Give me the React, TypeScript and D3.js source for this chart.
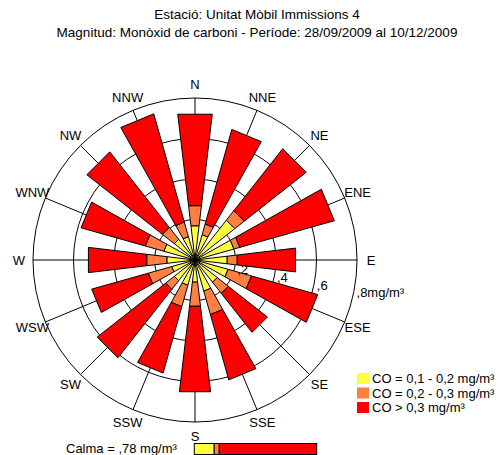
import React from "react";
import * as d3 from "d3";

const directions = ["N", "NNE", "NE", "ENE", "E", "ESE", "SE", "SSE", "S", "SSW", "SW", "WSW", "W", "WNW", "NW", "NNW"];
// concentration class contributions (mg/m³) per direction
const lowValues = [0.17, 0.13, 0.25, 0.20, 0.16, 0.17, 0.14, 0.16, 0.11, 0.13, 0.13, 0.12, 0.14, 0.16, 0.13, 0.12];
const midValues = [0.10, 0.055, 0.06, 0.03, 0.05, 0.12, 0.07, 0.12, 0.12, 0.11, 0.055, 0.12, 0.10, 0.095, 0.075, 0.075];
const highValues = [0.455, 0.485, 0.39, 0.485, 0.29, 0.34, 0.245, 0.335, 0.425, 0.34, 0.43, 0.29, 0.29, 0.33, 0.475, 0.555];
const ringTicks = [0.2, 0.4, 0.6, 0.8];
const ringLabels = [",2", ",4", ",6", ",8mg/m³"];
const calmValues = [0.127, 0.032, 0.621];
const calmTotalLabel = "Calma = ,78 mg/m³";
const seriesKeys = ["low", "mid", "high"];
const legendLabels = ["CO = 0,1 - 0,2 mg/m³", "CO = 0,2 - 0,3 mg/m³", "CO > 0,3 mg/m³"];
const colors = ["#ffff40", "#ff8040", "#ff0000"];
const titleLines = ["Estació: Unitat Mòbil Immissions 4", "Magnitud: Monòxid de carboni - Període: 28/09/2009 al 10/12/2009"];

const W = 501, H = 455;
const cx = 195, cy = 260;
const R = 162;
const FONT = "Liberation Sans, Arial, sans-serif";

export default function App() {
  const r = d3.scaleLinear().domain([0, 0.8]).range([0, R]);
  const step = (2 * Math.PI) / directions.length;
  const halfW = step * 0.3;

  const table = directions.map((d, i) => ({ dir: d, low: lowValues[i], mid: midValues[i], high: highValues[i] }));
  const stacked = d3.stack<any>().keys(seriesKeys)(table);

  const pt = (rad: number, a: number) => [cx + rad * Math.sin(a), cy - rad * Math.cos(a)];
  const dirAngle = (d: string) => directions.indexOf(d) * step;

  const barPath = (r0: number, r1: number, a: number) => {
    const p = [pt(r0, a - halfW), pt(r1, a - halfW), pt(r1, a + halfW), pt(r0, a + halfW)];
    return "M" + p.map((q) => q[0].toFixed(2) + "," + q[1].toFixed(2)).join("L") + "Z";
  };

  const labelAngle = (101 * Math.PI) / 180;

  const calmScale = d3.scaleLinear().domain([0, 0.78]).range([0, 122.4]);
  let calmAcc = 0;
  const calmX0 = 194.3;

  return (
    <svg width={W} height={H} style={{ position: "absolute", left: 0, top: 0, background: "#fff" }} fontFamily={FONT}>
      <rect x={0} y={0} width={W} height={H} fill="#fff" />
      {titleLines.map((t, i) => (
        <text key={t} x={257} y={19 + i * 18} textAnchor="middle" fontSize={13.5} fill="#000">{t}</text>
      ))}
      {ringTicks.map((v) => (
        <circle key={v} cx={cx} cy={cy} r={r(v)} fill="none" stroke="#000" strokeWidth={1} />
      ))}
      {directions.map((d) => {
        const p = pt(R, dirAngle(d));
        return <line key={d} x1={cx} y1={cy} x2={p[0]} y2={p[1]} stroke="#000" strokeWidth={1} />;
      })}
      {stacked.map((s, si) => (
        <g key={s.key}>
          {s.map((seg: any, i: number) => (
            <path key={i} d={barPath(r(seg[0]), r(seg[1]), dirAngle(directions[i]))} fill={colors[si]} stroke="#000" strokeWidth={1} strokeLinejoin="miter" />
          ))}
        </g>
      ))}
      {directions.map((d) => {
        const p = pt(176, dirAngle(d));
        return (
          <text key={d} x={p[0]} y={p[1]} textAnchor="middle" dominantBaseline="central" fontSize={13} fill="#000">{d}</text>
        );
      })}
      {ringTicks.map((v, i) => {
        const p = pt(r(v), labelAngle);
        return (
          <text key={v} x={p[0] + 2.5} y={p[1] + 6.5} fontSize={13} fill="#000">{ringLabels[i]}</text>
        );
      })}
      {legendLabels.map((l, i) => (
        <g key={l}>
          <rect x={357} y={373 + i * 14.5} width={12} height={11} fill={colors[i]} />
          <text x={372} y={383 + i * 14.5} fontSize={13} fill="#000">{l}</text>
        </g>
      ))}
      <text x={66} y={453} fontSize={13} fill="#000">{calmTotalLabel}</text>
      {calmValues.map((v, i) => {
        const x0 = calmX0 + calmScale(calmAcc);
        calmAcc += v;
        const x1 = calmX0 + calmScale(calmAcc);
        return <rect key={i} x={x0} y={443.5} width={x1 - x0} height={11} fill={colors[i]} stroke="#000" strokeWidth={1} />;
      })}
    </svg>
  );
}
